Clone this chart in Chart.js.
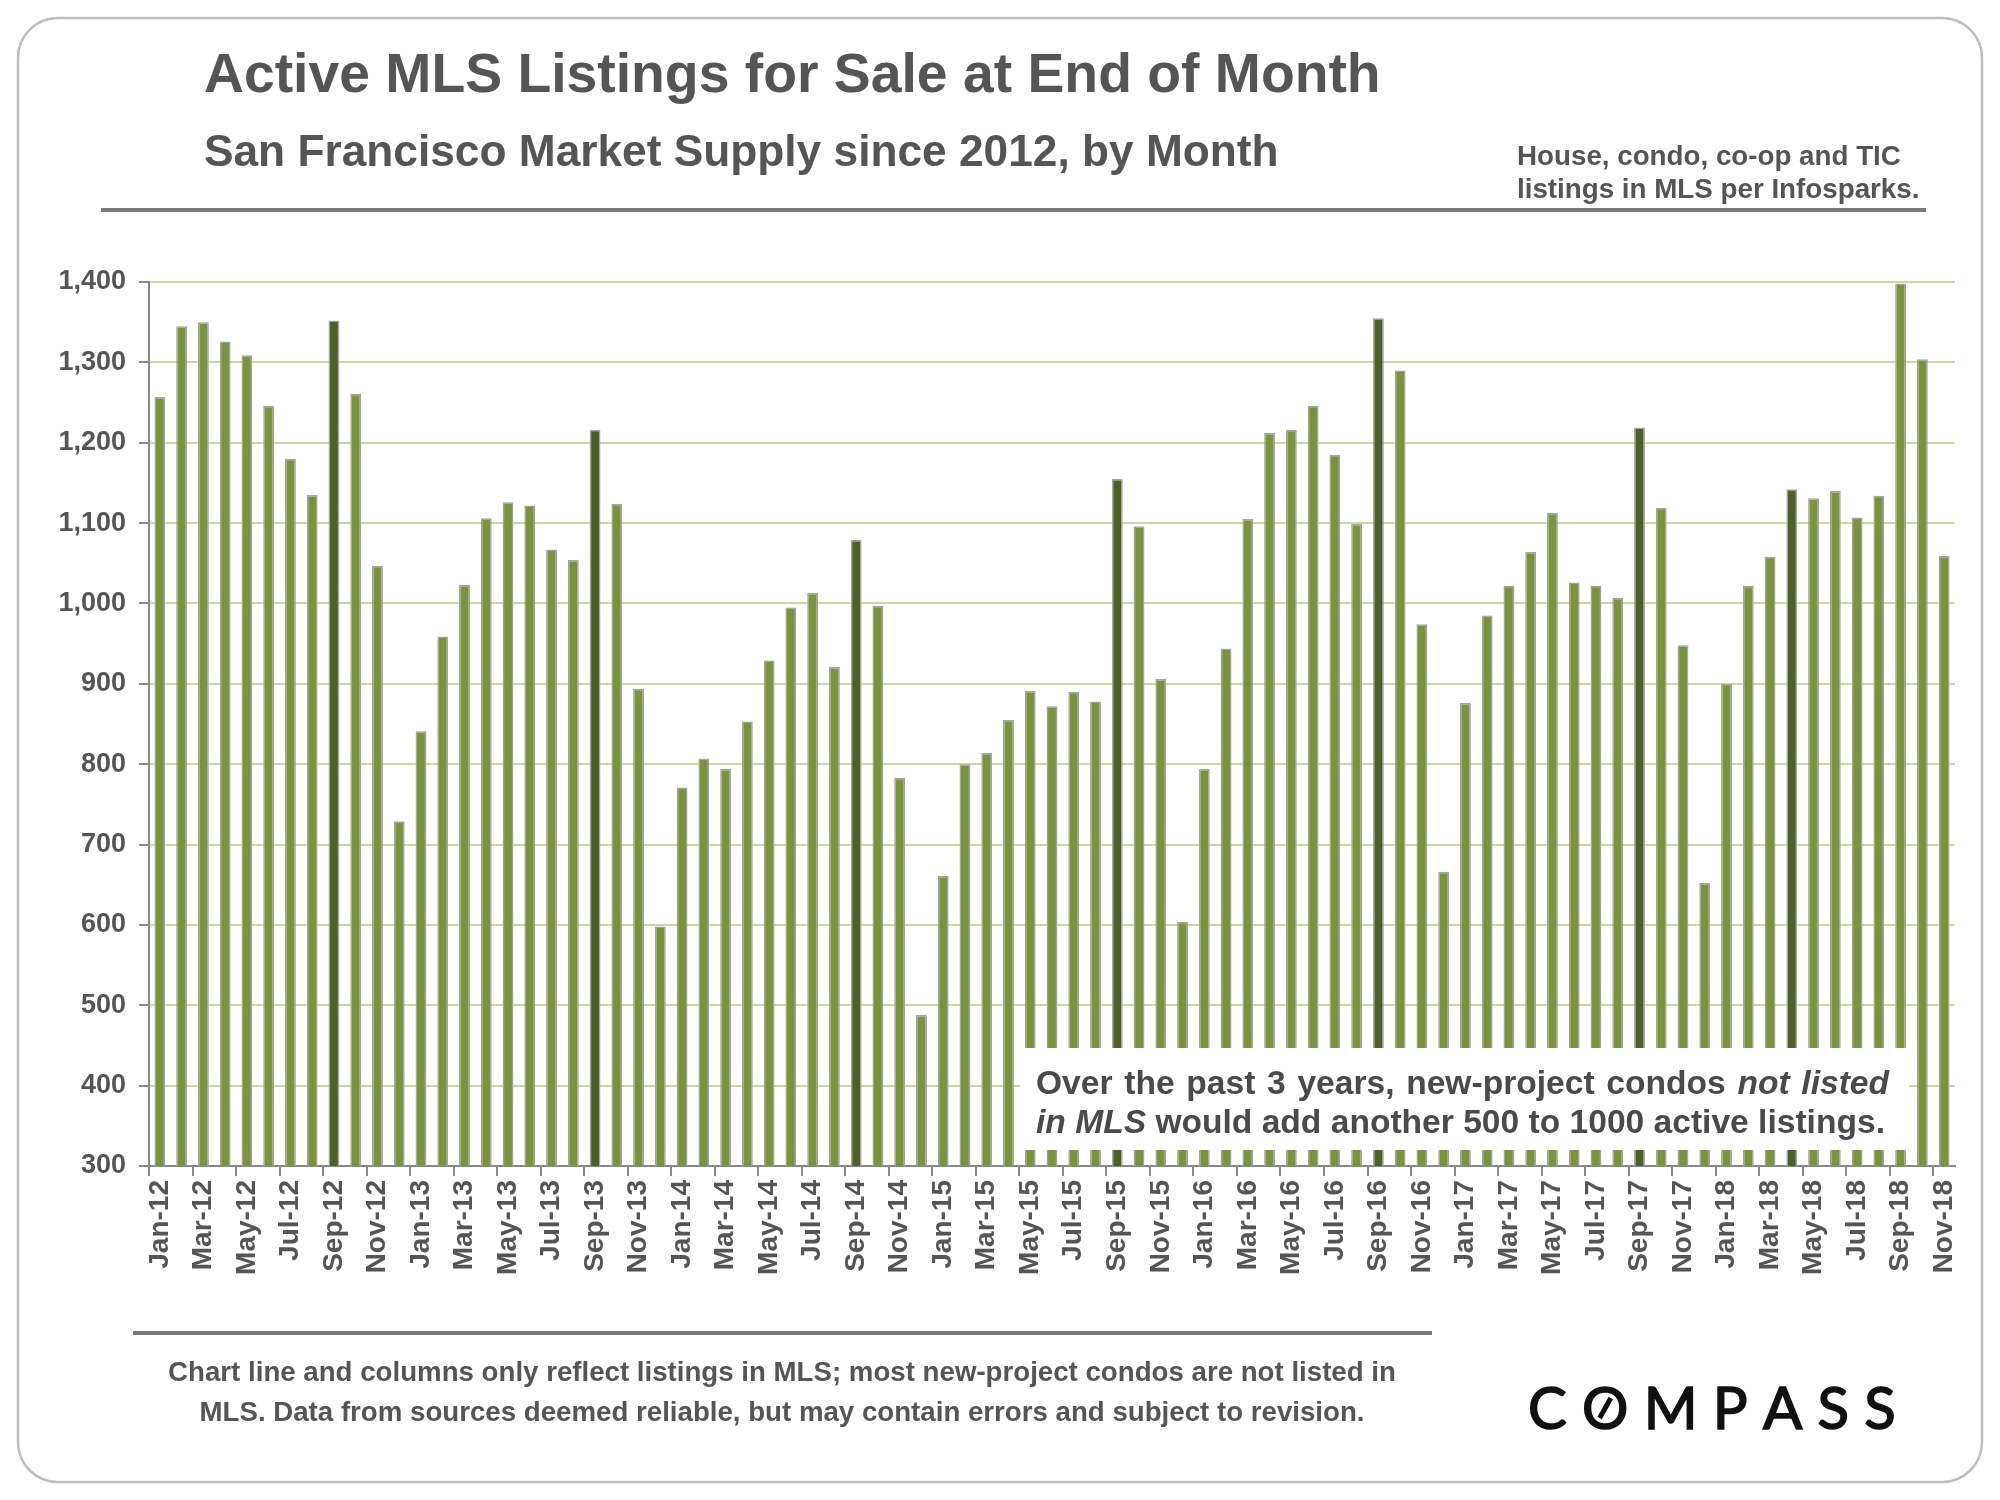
<!DOCTYPE html>
<html>
<head>
<meta charset="utf-8">
<script src="https://cdn.jsdelivr.net/npm/chart.js@4.4.1/dist/chart.umd.min.js"></script>
<style>
  html, body { margin: 0; padding: 0; background: #fff; }
  #wrap { width: 2000px; height: 1500px; }
</style>
</head>
<body>
<div id="wrap"><canvas id="graficoListings" width="2000" height="1500"></canvas></div>
<script>
// Month labels
var monthNames = ["Jan", "Feb", "Mar", "Apr", "May", "Jun", "Jul", "Aug", "Sep", "Oct", "Nov", "Dec"];
var yearTags = ["12", "13", "14", "15", "16", "17", "18"];

// Active listings at end of month
var listings2012 = [1257, 1345, 1350, 1326, 1309, 1246, 1180, 1135, 1352, 1261, 1047, 729];
var listings2013 = [841, 959, 1023, 1106, 1126, 1122, 1067, 1054, 1216, 1124, 894, 598];
var listings2014 = [771, 807, 794, 853, 929, 995, 1013, 921, 1079, 997, 783, 488];
var listings2015 = [661, 800, 814, 855, 891, 872, 890, 878, 1155, 1096, 906, 604];
var listings2016 = [794, 944, 1105, 1212, 1216, 1246, 1185, 1099, 1355, 1290, 974, 666];
var listings2017 = [876, 985, 1022, 1064, 1113, 1026, 1022, 1007, 1219, 1119, 948, 652];
var listings2018 = [900, 1022, 1058, 1142, 1131, 1140, 1107, 1134, 1398, 1304, 1059];

// Columns drawn in the darker green
var highlightMonths = ["Sep-12", "Sep-13", "Sep-14", "Sep-15", "Sep-16", "Sep-17", "Apr-18"];

var yMin = 300;
var yMax = 1400;
var yStep = 100;

var labels = [];
yearTags.forEach(function (yy) {
  monthNames.forEach(function (m) { labels.push(m + "-" + yy); });
});
var values = [].concat(listings2012, listings2013, listings2014, listings2015, listings2016, listings2017, listings2018);
labels = labels.slice(0, values.length);

var verdeBarra = "#7b933b";
var verdeOscuro = "#4e5f28";
var colores = labels.map(function (l) { return highlightMonths.indexOf(l) >= 0 ? verdeOscuro : verdeBarra; });

var fuente = "'Liberation Sans', Arial, sans-serif";
var gris = "#555555";

function fitSize(ctx, text, weight, target) {
  ctx.font = weight + " 100px " + fuente;
  return 100 * target / ctx.measureText(text).width;
}

function roundRect(ctx, x, y, w, h, r) {
  ctx.beginPath();
  ctx.moveTo(x + r, y);
  ctx.lineTo(x + w - r, y);
  ctx.arcTo(x + w, y, x + w, y + r, r);
  ctx.lineTo(x + w, y + h - r);
  ctx.arcTo(x + w, y + h, x + w - r, y + h, r);
  ctx.lineTo(x + r, y + h);
  ctx.arcTo(x, y + h, x, y + h - r, r);
  ctx.lineTo(x, y + r);
  ctx.arcTo(x, y, x + r, y, r);
  ctx.closePath();
}

// dibuja una linea con segmentos de fuente distinta; si ancho > 0 se justifica
function lineaMixta(ctx, segs, x, y, size, ancho) {
  var palabras = [];
  segs.forEach(function (s) {
    s[1].split(/( )/).forEach(function (p) { if (p.length) palabras.push([s[0], p]); });
  });
  var total = 0, espacios = 0;
  palabras.forEach(function (p) {
    ctx.font = p[0] + " " + size + "px " + fuente;
    total += ctx.measureText(p[1]).width;
    if (p[1] === " ") espacios++;
  });
  var extra = (ancho > 0 && espacios > 0) ? (ancho - total) / espacios : 0;
  palabras.forEach(function (p) {
    ctx.font = p[0] + " " + size + "px " + fuente;
    if (p[1] !== " ") ctx.fillText(p[1], x, y);
    x += ctx.measureText(p[1]).width + (p[1] === " " ? extra : 0);
  });
}

var decoracion = {
  id: "decoracion",
  beforeDraw: function (chart) {
    var ctx = chart.ctx;
    ctx.save();
    ctx.fillStyle = "#fff";
    ctx.fillRect(0, 0, 2000, 1500);
    roundRect(ctx, 18, 18, 1964, 1464, 40);
    ctx.strokeStyle = "#bdbdbd";
    ctx.lineWidth = 2.5;
    ctx.stroke();
    ctx.restore();
  },
  afterDatasetsDraw: function (chart) {
    var ctx = chart.ctx;
    ctx.save();
    // caja de anotacion
    ctx.fillStyle = "#fff";
    ctx.fillRect(1020, 1048, 889, 102);
    var seg1 = [["bold", "Over the past 3 years, new-project condos "], ["italic bold", "not listed"]];
    var seg2 = [["italic bold", "in MLS"], ["bold", " would add another 500 to 1000 active listings."]];
    ctx.fillStyle = "#4a4a4a";
    ctx.textBaseline = "alphabetic";
    lineaMixta(ctx, seg1, 1036, 1094, 33.6, 853);
    lineaMixta(ctx, seg2, 1036, 1133, 33.6, 0);
    ctx.restore();
  },
  afterDraw: function (chart) {
    var ctx = chart.ctx;
    ctx.save();
    ctx.fillStyle = gris;
    ctx.textBaseline = "alphabetic";
    ctx.textAlign = "left";

    var t = "Active MLS Listings for Sale at End of Month";
    ctx.font = "bold " + fitSize(ctx, t, "bold", 1177) + "px " + fuente;
    ctx.fillText(t, 204, 92);

    var st = "San Francisco Market Supply since 2012, by Month";
    ctx.font = "bold " + fitSize(ctx, st, "bold", 1075) + "px " + fuente;
    ctx.fillText(st, 204, 166);

    var n1 = "House, condo, co-op and TIC";
    var n2 = "listings in MLS per Infosparks.";
    ctx.font = "bold " + fitSize(ctx, n1, "bold", 384) + "px " + fuente;
    ctx.fillText(n1, 1517, 165);
    ctx.fillText(n2, 1517, 198);

    // reglas
    ctx.strokeStyle = "#7a7a7a";
    ctx.lineWidth = 4;
    ctx.beginPath();
    ctx.moveTo(101, 210); ctx.lineTo(1926, 210);
    ctx.moveTo(133, 1333); ctx.lineTo(1432, 1333);
    ctx.stroke();

    // pie
    var f1 = "Chart line and columns only reflect listings in MLS; most new-project condos are not listed in";
    var f2 = "MLS. Data from sources deemed reliable, but may contain errors and subject to revision.";
    ctx.textAlign = "center";
    ctx.font = "bold " + fitSize(ctx, f1, "bold", 1228) + "px " + fuente;
    ctx.fillText(f1, 782, 1381);
    ctx.fillText(f2, 782, 1421);

    // logo
    var logo = "COMPASS";
    ctx.textAlign = "left";
    ctx.fillStyle = "#111";
    ctx.strokeStyle = "#111";
    ctx.font = "400 58px Lato, 'Noto Sans', sans-serif";
    var wSin = ctx.measureText(logo).width;
    var esp = (364 - wSin) / (logo.length - 1);
    var x = 1528;
    for (var i = 0; i < logo.length; i++) {
      var c = logo[i];
      var w = ctx.measureText(c).width;
      ctx.lineWidth = 1.6;
      ctx.fillText(c, x, 1429);
      ctx.strokeText(c, x, 1429);
      if (c === "O") {
        ctx.lineWidth = 5;
        ctx.beginPath();
        ctx.moveTo(x + w * 0.38, 1418);
        ctx.lineTo(x + w * 0.62, 1398);
        ctx.stroke();
      }
      x += w + esp;
    }
    ctx.restore();
  }
};

var config = {
  type: "bar",
  data: {
    labels: labels,
    datasets: [
      {
        label: "Active MLS listings",
        data: values,
        backgroundColor: colores,
        borderColor: "#a3a3a3",
        borderWidth: 1.5,
        barPercentage: 0.5,
        categoryPercentage: 1.0
      }
    ]
  },
  options: {
    responsive: false,
    devicePixelRatio: 1,
    animation: false,
    layout: { padding: { left: 20, right: 45, top: 282, bottom: 134 } },
    plugins: { legend: { display: false }, tooltip: { enabled: false } },
    scales: {
      x: {
        offset: true,
        grid: {
          offset: true,
          drawOnChartArea: false,
          tickLength: 10,
          lineWidth: 2,
          color: function (c) { return c.index % 2 === 0 ? "#888" : "rgba(0,0,0,0)"; }
        },
        border: { color: "#888", width: 2 },
        ticks: {
          autoSkip: false,
          minRotation: 90,
          maxRotation: 90,
          padding: 4,
          color: gris,
          font: { family: fuente, size: 28, weight: "bold" },
          callback: function (v, i) { return i % 2 === 0 ? labels[i] : ""; }
        },
        afterFit: function (s) { s.height = 200; }
      },
      y: {
        min: yMin,
        max: yMax,
        grid: { color: "#c9da9f", lineWidth: 2, tickLength: 10, tickColor: "#888" },
        border: { color: "#888", width: 2 },
        ticks: {
          stepSize: yStep,
          padding: 13,
          color: gris,
          font: { family: fuente, size: 27, weight: "bold" },
          callback: function (v) { return v.toLocaleString("en-US"); }
        },
        afterFit: function (s) { s.width = 129; }
      }
    }
  },
  plugins: [decoracion]
};

var graficoListings = new Chart(document.getElementById("graficoListings"), config);
</script>
</body>
</html>
